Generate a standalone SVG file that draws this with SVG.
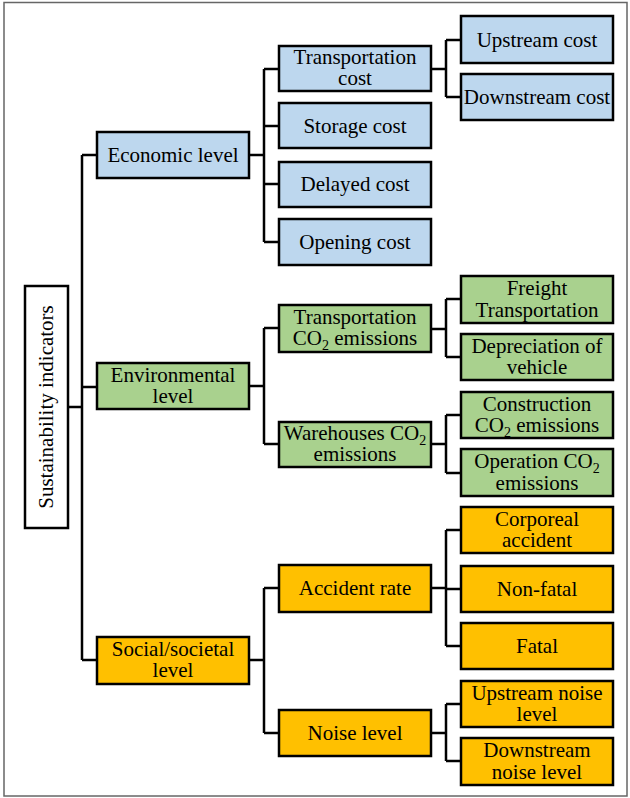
<svg xmlns="http://www.w3.org/2000/svg" width="630" height="798" viewBox="0 0 630 798">
<style>
.b{fill:#BDD7EE;stroke:#000;stroke-width:2.5}
.g{fill:#A9D18E;stroke:#000;stroke-width:2.5}
.o{fill:#FFC000;stroke:#000;stroke-width:2.5}
.w{fill:#fff;stroke:#000;stroke-width:2.5}
.t text{font-size:21px;fill:#000;text-anchor:middle}
.sub{font-size:14px}
#conn path{fill:none;stroke:#000;stroke-width:2.5}
</style>
<rect x="4" y="2.5" width="623" height="793.5" fill="#fff" stroke="#666" stroke-width="1.5"/>
<g id="conn">
<path d="M68 407H82M82 155V660M82 155H97M82 387H97M82 660H97"/>
<path d="M249 155H264M264 69V242M264 69H279M264 126H279M264 184H279M264 242H279"/>
<path d="M431 69H446M446 40V97M446 40H461M446 97H461"/>
<path d="M249 386H264M264 328V444M264 328H279M264 444H279"/>
<path d="M431 329H446M446 299V357M446 299H461M446 357H461"/>
<path d="M431 444H446M446 415V473M446 415H461M446 473H461"/>
<path d="M249 660H264M264 588V733M264 588H279M264 733H279"/>
<path d="M431 588H446M446 530V646M446 530H461M446 589H461M446 646H461"/>
<path d="M431 733H446M446 704V761M446 704H461M446 761H461"/>
</g>
<g class="t" font-family="Liberation Serif, Times New Roman, serif">
<g id="root"><rect class="w" x="25" y="286" width="43" height="242"/><text transform="translate(53,407) rotate(-90)">Sustainability indicators</text></g>
<g id="economic"><rect class="b" x="97" y="132" width="152" height="46"/><text x="173" y="162">Economic level</text></g>
<g id="transport-cost"><rect class="b" x="279" y="46" width="152" height="45"/><text x="355" y="64">Transportation<tspan x="355" dy="21">cost</tspan></text></g>
<g id="storage"><rect class="b" x="279" y="103" width="152" height="45"/><text x="355" y="133">Storage cost</text></g>
<g id="delayed"><rect class="b" x="279" y="162" width="152" height="45"/><text x="355" y="191">Delayed cost</text></g>
<g id="opening"><rect class="b" x="279" y="219" width="152" height="46"/><text x="355" y="249">Opening cost</text></g>
<g id="upstream-cost"><rect class="b" x="461" y="16" width="152" height="47"/><text x="537" y="47">Upstream cost</text></g>
<g id="downstream-cost"><rect class="b" x="461" y="74" width="152" height="46"/><text x="537" y="104">Downstream cost</text></g>
<g id="environmental"><rect class="g" x="97" y="363" width="152" height="46"/><text x="173" y="382">Environmental<tspan x="173" dy="21">level</tspan></text></g>
<g id="transport-co2"><rect class="g" x="279" y="305" width="152" height="47"/><text x="355" y="324">Transportation<tspan x="355" dy="21">CO</tspan><tspan class="sub" dy="5">2</tspan><tspan dy="-5"> emissions</tspan></text></g>
<g id="warehouses-co2"><rect class="g" x="279" y="422" width="152" height="45"/><text x="355" y="440">Warehouses CO<tspan class="sub" dy="5">2</tspan><tspan x="355" dy="16">emissions</tspan></text></g>
<g id="freight"><rect class="g" x="461" y="276" width="152" height="47"/><text x="537" y="295">Freight<tspan x="537" dy="22">Transportation</tspan></text></g>
<g id="depreciation"><rect class="g" x="461" y="334" width="152" height="46"/><text x="537" y="353">Depreciation of<tspan x="537" dy="21">vehicle</tspan></text></g>
<g id="construction"><rect class="g" x="461" y="392" width="152" height="46"/><text x="537" y="411">Construction<tspan x="537" dy="21">CO</tspan><tspan class="sub" dy="5">2</tspan><tspan dy="-5"> emissions</tspan></text></g>
<g id="operation"><rect class="g" x="461" y="449" width="152" height="47"/><text x="537" y="468">Operation CO<tspan class="sub" dy="5">2</tspan><tspan x="537" dy="17">emissions</tspan></text></g>
<g id="social"><rect class="o" x="97" y="637" width="152" height="47"/><text x="173" y="656">Social/societal<tspan x="173" dy="21">level</tspan></text></g>
<g id="accident"><rect class="o" x="279" y="565" width="152" height="47"/><text x="355" y="595">Accident rate</text></g>
<g id="noise"><rect class="o" x="279" y="710" width="152" height="46"/><text x="355" y="740">Noise level</text></g>
<g id="corporeal"><rect class="o" x="461" y="507" width="152" height="46"/><text x="537" y="526">Corporeal<tspan x="537" dy="21">accident</tspan></text></g>
<g id="non-fatal"><rect class="o" x="461" y="566" width="152" height="46"/><text x="537" y="596">Non-fatal</text></g>
<g id="fatal"><rect class="o" x="461" y="623" width="152" height="46"/><text x="537" y="653">Fatal</text></g>
<g id="upstream-noise"><rect class="o" x="461" y="681" width="152" height="46"/><text x="537" y="700">Upstream noise<tspan x="537" dy="21">level</tspan></text></g>
<g id="downstream-noise"><rect class="o" x="461" y="738" width="152" height="47"/><text x="537" y="757">Downstream<tspan x="537" dy="22">noise level</tspan></text></g>
</g>
</svg>
